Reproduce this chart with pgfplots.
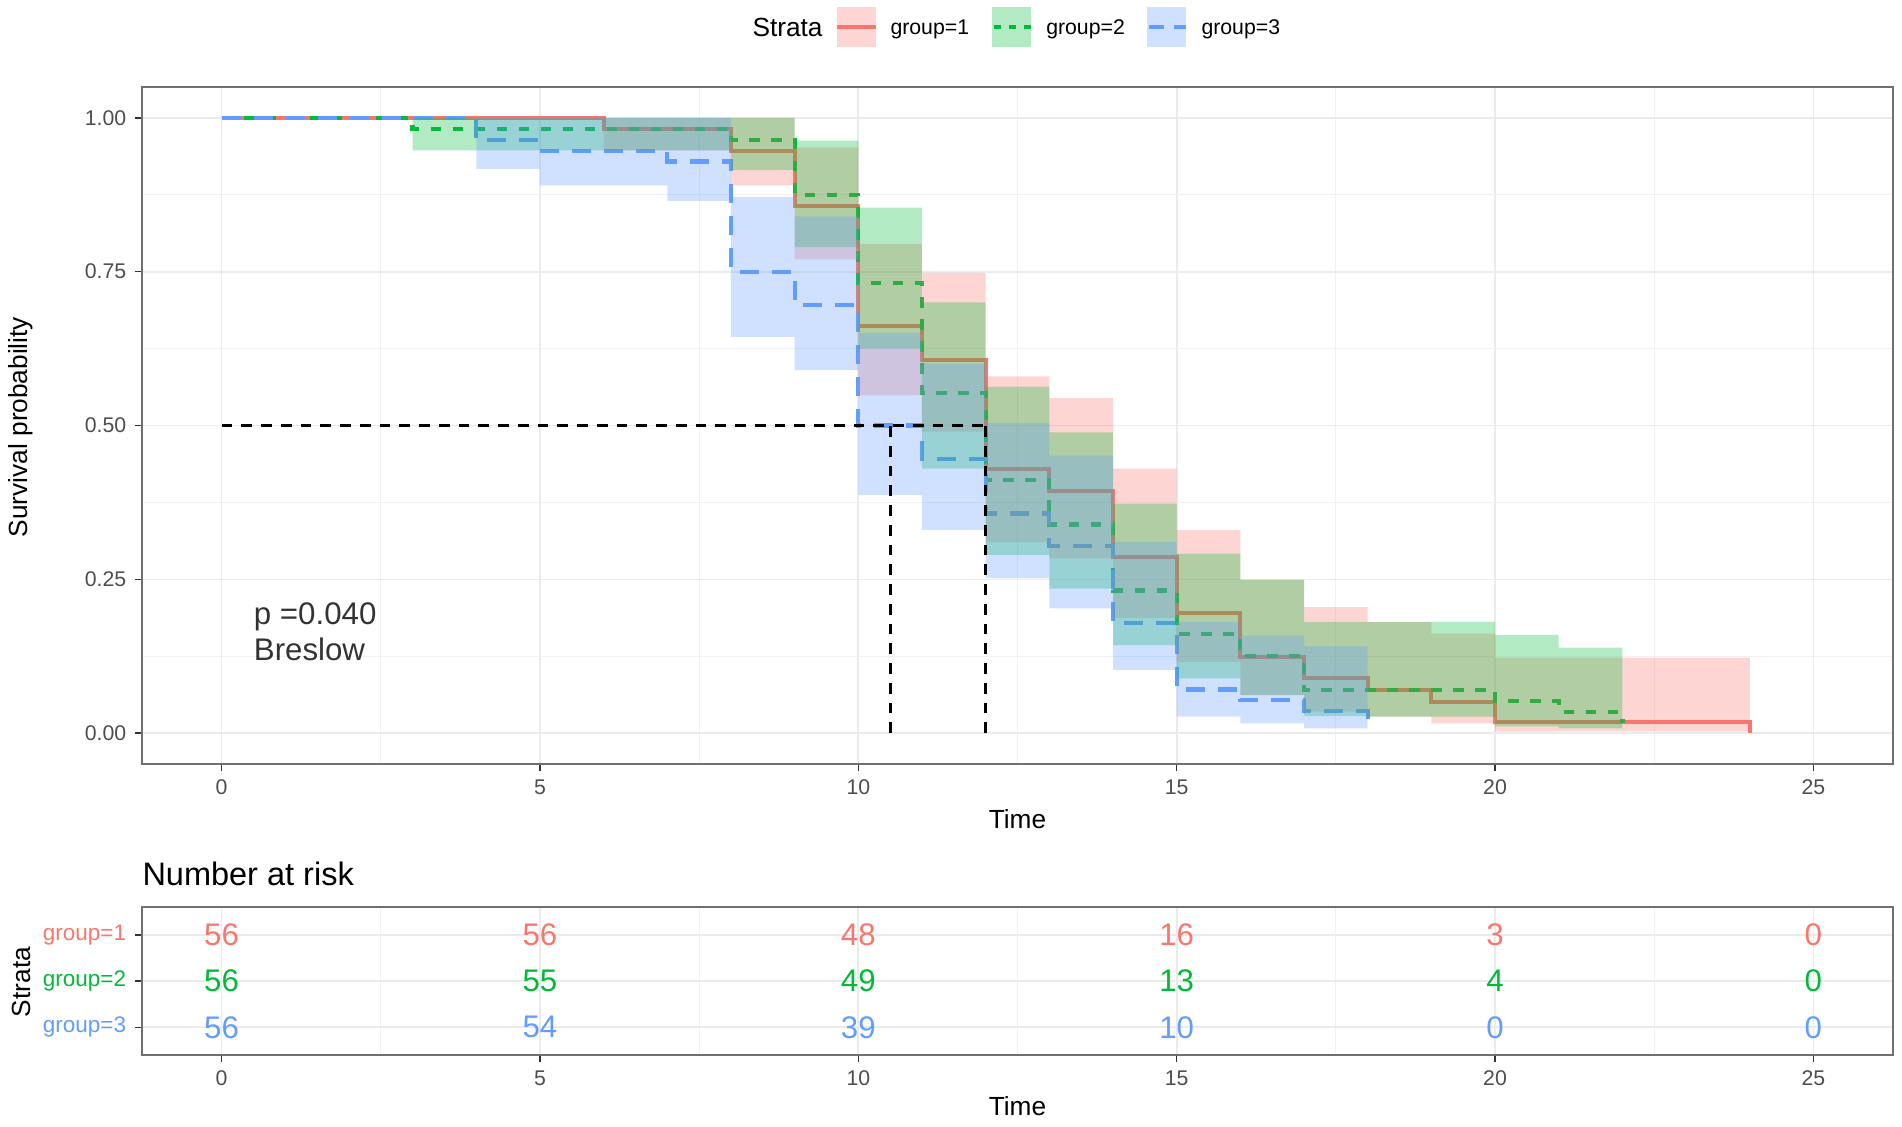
\documentclass[border=0pt]{standalone}
\usepackage{fontspec}
\setmainfont{Liberation Sans}
\usepackage{pgfplots}
\pgfplotsset{compat=1.18}
\usepackage{pgfplotstable}
\usepgfplotslibrary{fillbetween}

\definecolor{cR}{HTML}{F8766D}
\definecolor{cG}{HTML}{00BA38}
\definecolor{cB}{HTML}{619CFF}
\definecolor{gridc}{HTML}{EBEBEB}
\definecolor{bordc}{HTML}{333333}
\definecolor{tickc}{HTML}{4D4D4D}

\pgfplotsset{
  layers/kmlayers/.define layer set={
    axis background,axis grid,axis ticks,axis lines,axis tick labels,
    curves,pre main,main,axis descriptions,axis foreground
  }{/pgfplots/layers/standard},
}

% group 1: time, survival, lower, upper
\pgfplotstableread{
t s lo hi
0 1 1 1
6 0.982 0.947 1.0
8 0.946 0.890 1.0
9 0.857 0.770 0.952
10 0.661 0.549 0.795
11 0.607 0.490 0.748
12 0.429 0.310 0.580
13 0.394 0.284 0.545
14 0.286 0.187 0.430
15 0.196 0.116 0.330
16 0.124 0.062 0.249
17 0.089 0.035 0.205
18 0.070 0.027 0.181
19 0.051 0.016 0.162
20 0.019 0.003 0.123
24 0.000 0.003 0.123
}\gA
% group 2
\pgfplotstableread{
t s lo hi
0 1 1 1
3 0.982 0.947 1.0
8 0.964 0.915 1.0
9 0.875 0.790 0.963
10 0.732 0.625 0.854
11 0.553 0.430 0.700
12 0.411 0.290 0.563
13 0.339 0.235 0.489
14 0.232 0.143 0.373
15 0.161 0.089 0.292
16 0.125 0.062 0.249
17 0.070 0.028 0.181
18 0.070 0.027 0.181
20 0.052 0.011 0.160
21 0.035 0.008 0.139
22 0.016 0.008 0.139
}\gB
% group 3
\pgfplotstableread{
t s lo hi
0 1 1 1
4 0.964 0.917 1.0
5 0.946 0.890 1.0
7 0.929 0.865 1.0
8 0.750 0.644 0.871
9 0.696 0.590 0.840
10 0.500 0.387 0.650
11 0.446 0.330 0.600
12 0.357 0.252 0.504
13 0.304 0.203 0.451
14 0.179 0.103 0.311
15 0.071 0.027 0.181
16 0.054 0.016 0.159
17 0.036 0.008 0.141
18 0.012 0.008 0.141
}\gC
% number at risk
\pgfplotstableread{
t y n
0 3 56
5 3 56
10 3 48
15 3 16
20 3 3
25 3 0
}\rA
\pgfplotstableread{
t y n
0 2 56
5 2 55
10 2 49
15 2 13
20 2 4
25 2 0
}\rB
\pgfplotstableread{
t y n
0 1 56
5 1 54
10 1 39
15 1 10
20 1 0
25 1 0
}\rC

\pgfplotsset{
  kmstyle/.style={
    scale only axis, width=700.4pt,
    xmin=-1.25, xmax=26.25,
    xtick={0,5,...,25}, minor xtick={2.5,7.5,...,22.5},
    xtick pos=bottom, ytick pos=left,
    tick align=outside, major tick length=2.8pt, minor tick length=0pt,
    tick style={bordc, line width=0.6pt},
    grid=both,
    major grid style={gridc, line width=0.7pt},
    minor grid style={gridc!70!white, line width=0.35pt},
    axis line style={bordc!70!white, line width=0.9pt},
    ticklabel style={font=\fontsize{8.5}{10}\selectfont, text=tickc},
    /pgf/number format/assume math mode=true,
  },
  lR/.style={const plot, cR, line width=1.6pt, on layer=curves},
  lG/.style={const plot, cG, line width=1.7pt, dash pattern=on 4.2pt off 4.6pt, on layer=curves},
  lB/.style={const plot, cB, line width=1.7pt, dash pattern=on 7.6pt off 5.2pt, on layer=curves},
}

\begin{document}
\begin{tikzpicture}
\path (0,0) rectangle (760.8pt,-450.4pt);

% legend
\node[anchor=base west, inner sep=0pt, font=\fontsize{10.5}{12}\selectfont] at (300.8pt,-14.6pt) {Strata};
\fill[cR!30!white] (334.8pt,-2.8pt) rectangle (350.4pt,-18.8pt);
\draw[cR, line width=1.6pt] (334.8pt,-10.8pt) -- (350.4pt,-10.8pt);
\node[anchor=base west, inner sep=0pt, font=\fontsize{8.5}{10}\selectfont] at (356pt,-13.8pt) {group=1};
\fill[cG!30!white] (396.9pt,-2.8pt) rectangle (412.4pt,-18.8pt);
\draw[cG, line width=1.7pt, dash pattern=on 3pt off 3pt] (397.5pt,-10.8pt) -- (412.4pt,-10.8pt);
\node[anchor=base west, inner sep=0pt, font=\fontsize{8.5}{10}\selectfont] at (418.3pt,-13.8pt) {group=2};
\fill[cB!30!white] (458.9pt,-2.8pt) rectangle (474.5pt,-18.8pt);
\draw[cB, line width=1.7pt, dash pattern=on 6pt off 4pt] (459.5pt,-10.8pt) -- (474.5pt,-10.8pt);
\node[anchor=base west, inner sep=0pt, font=\fontsize{8.5}{10}\selectfont] at (480.4pt,-13.8pt) {group=3};

% axis titles
\node[rotate=90, font=\fontsize{10.5}{12}\selectfont] at (8.4pt,-170.8pt) {Survival probability};
\node[font=\fontsize{10.5}{12}\selectfont] at (407pt,-327.6pt) {Time};
\node[anchor=base west, inner sep=0pt, font=\fontsize{13}{15}\selectfont] at (56.8pt,-354pt) {Number at risk};
\node[rotate=90, font=\fontsize{10.5}{12}\selectfont] at (8.4pt,-392.8pt) {Strata};
\node[font=\fontsize{10.5}{12}\selectfont] at (407pt,-442.6pt) {Time};

\begin{axis}[kmstyle, at={(56.8pt,-305.6pt)}, anchor=south west, height=270.8pt,
  set layers=kmlayers,
  ymin=-0.05, ymax=1.05, ytick={0,0.25,0.5,0.75,1},
  yticklabels={0.00,0.25,0.50,0.75,1.00},
  minor ytick={0.125,0.375,0.625,0.875}]
  % survival step curves (layer below the bands)
  \addplot[lR] table[x=t,y=s]{\gA};
  \addplot[lG] table[x=t,y=s]{\gB};
  \addplot[lB] table[x=t,y=s]{\gC};
  % confidence bands (drawn over the curves)
  \addplot[const plot, draw=none, forget plot, name path=Au] table[x=t,y=hi]{\gA};
  \addplot[const plot, draw=none, forget plot, name path=Al] table[x=t,y=lo]{\gA};
  \addplot[const plot, draw=none, forget plot, name path=Bu] table[x=t,y=hi]{\gB};
  \addplot[const plot, draw=none, forget plot, name path=Bl] table[x=t,y=lo]{\gB};
  \addplot[const plot, draw=none, forget plot, name path=Cu] table[x=t,y=hi]{\gC};
  \addplot[const plot, draw=none, forget plot, name path=Cl] table[x=t,y=lo]{\gC};
  \addplot[cR, fill opacity=0.3] fill between[of=Au and Al];
  \addplot[cG, fill opacity=0.3] fill between[of=Bu and Bl];
  \addplot[cB, fill opacity=0.3] fill between[of=Cu and Cl];
  % median survival lines
  \addplot[black, line width=1.2pt, dash pattern=on 4.3pt off 3.6pt] coordinates {(0,0.5) (12,0.5)};
  \addplot[black, line width=1.2pt, dash pattern=on 4.3pt off 3.6pt] coordinates {(10.5,0) (10.5,0.5)};
  \addplot[black, line width=1.2pt, dash pattern=on 4.3pt off 3.6pt] coordinates {(12,0) (12,0.5)};
  \node[anchor=base west, inner sep=0pt, font=\fontsize{12.5}{14}\selectfont, text=black!80] at (axis cs:0.5,0.176) {p =0.040};
  \node[anchor=base west, inner sep=0pt, font=\fontsize{12.5}{14}\selectfont, text=black!80] at (axis cs:0.5,0.119) {Breslow};
\end{axis}

\begin{axis}[kmstyle, at={(56.8pt,-422pt)}, anchor=south west, height=59.2pt,
  ymin=0.4, ymax=3.6, ytick={1,2,3},
  yticklabel style={font=\fontsize{9}{10}\selectfont},
  yticklabels={\textcolor{cB}{group=3},\textcolor{cG}{group=2},\textcolor{cR}{group=1}}]
  \addplot[draw=none, nodes near coords, point meta=explicit symbolic,
    nodes near coords style={anchor=center, inner sep=0pt, text=cR, font=\fontsize{12.5}{14}\selectfont}]
    table[x=t,y=y,meta=n]{\rA};
  \addplot[draw=none, nodes near coords, point meta=explicit symbolic,
    nodes near coords style={anchor=center, inner sep=0pt, text=cG, font=\fontsize{12.5}{14}\selectfont}]
    table[x=t,y=y,meta=n]{\rB};
  \addplot[draw=none, nodes near coords, point meta=explicit symbolic,
    nodes near coords style={anchor=center, inner sep=0pt, text=cB, font=\fontsize{12.5}{14}\selectfont}]
    table[x=t,y=y,meta=n]{\rC};
\end{axis}
\end{tikzpicture}
\end{document}
